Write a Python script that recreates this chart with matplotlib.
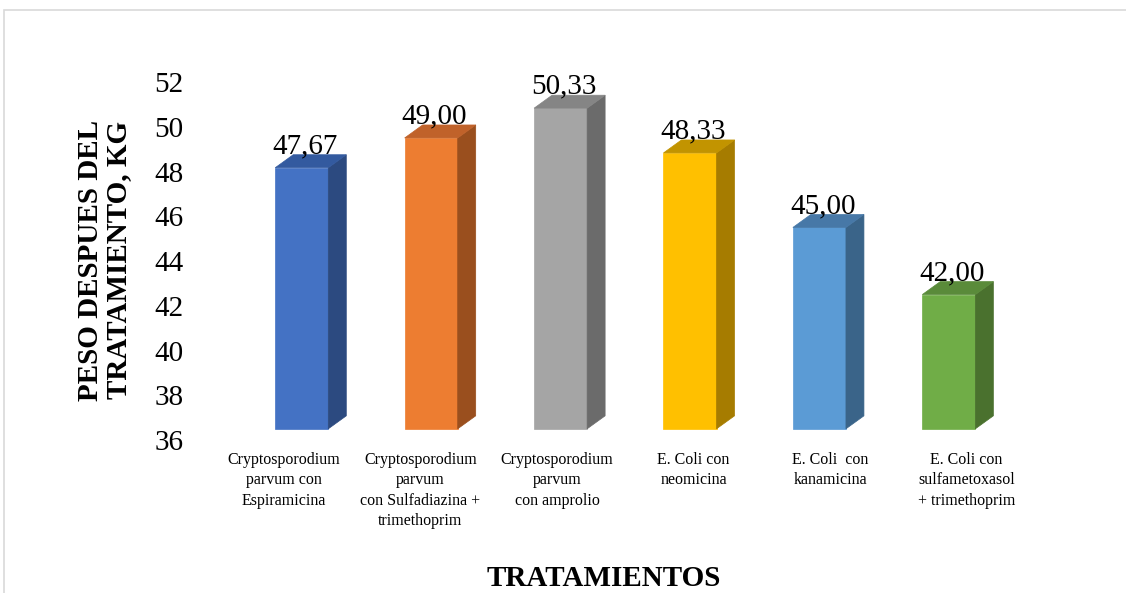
import matplotlib.pyplot as plt
from matplotlib.patches import Polygon, Rectangle
from matplotlib.transforms import blended_transform_factory

# datos del ensayo
tratamientos = [
    "Cryptosporodium\nparvum con\nEspiramicina",
    "Cryptosporodium\nparvum\ncon Sulfadiazina +\ntrimethoprim",
    "Cryptosporodium\nparvum\ncon amprolio",
    "E. Coli con\nneomicina",
    "E. Coli  con\nkanamicina",
    "E. Coli con\nsulfametoxasol\n+ trimethoprim",
]
peso_kg = [47.67, 49.00, 50.33, 48.33, 45.00, 42.00]
y_ticks = [36, 38, 40, 42, 44, 46, 48, 50, 52]

color_frente = ["#4472C4", "#ED7D31", "#A5A5A5", "#FFC000", "#5B9BD5", "#70AD47"]
color_lado = ["#2C4A80", "#9A4F1E", "#6B6B6B", "#A67C00", "#3A6489", "#4A712E"]
color_tapa = ["#335A9F", "#C0622A", "#858585", "#C29400", "#4778A7", "#5A8B3A"]

plt.rcParams["font.family"] = ["Liberation Serif", "DejaVu Serif"]

fig = plt.figure(figsize=(11.26, 5.93), dpi=100)
ax = fig.add_axes([0.1687, 0.258, 0.8082, 0.6037])

# marco del grafico
fig.patches.append(Rectangle((0.0036, -0.1), 1.1, 1.083, transform=fig.transFigure,
                             fill=False, edgecolor="#D9D9D9", linewidth=1.2))

ancho = 0.41     # cara frontal
dx, dy = 0.139, 0.58   # profundidad 3D
piso = 36.5

for i, v in enumerate(peso_kg):
    x0, x1 = i - ancho / 2, i + ancho / 2
    top = v + 0.5
    ax.bar(i, v - 36, width=ancho, bottom=piso, color=color_frente[i],
           edgecolor=color_frente[i], linewidth=0.5, zorder=3)
    ax.add_patch(Polygon([(x1, piso), (x1 + dx, piso + dy), (x1 + dx, top + dy), (x1, top)],
                         closed=True, facecolor=color_lado[i], edgecolor=color_lado[i],
                         linewidth=0.5, zorder=3))
    ax.add_patch(Polygon([(x0, top), (x0 + dx, top + dy), (x1 + dx, top + dy), (x1, top)],
                         closed=True, facecolor=color_tapa[i], edgecolor=color_tapa[i],
                         linewidth=0.5, zorder=3))
    ax.annotate(f"{v:.2f}".replace(".", ","), xy=(i + 0.025, top + dy),
                xytext=(0, 1), textcoords="offset points",
                ha="center", va="baseline", fontsize=21, zorder=4)

# etiquetas de categorias
trans = blended_transform_factory(ax.transData, ax.transAxes)
for i, t in enumerate(tratamientos):
    ax.text(i + (i - 2.5) * 0.055, -0.033, t, transform=trans, ha="center", va="top",
            multialignment="center", fontsize=11.5, linespacing=1.38)

ax.set_xlim(-0.864, 6.168)
ax.set_ylim(36, 52)
ax.set_yticks(y_ticks)
ax.set_xticks([])
ax.tick_params(axis="y", length=0, pad=4.5, labelsize=21)
for s in ax.spines.values():
    s.set_visible(False)

fig.text(0.0924, 0.561, "PESO DESPUES DEL\nTRATAMIENTO, KG", rotation=90,
         ha="center", va="center", fontsize=21, fontweight="bold", linespacing=1.05)
fig.text(0.5364, 0.024, "TRATAMIENTOS", ha="center", va="center",
         fontsize=21, fontweight="bold")

fig.savefig("out.png", dpi=100)
